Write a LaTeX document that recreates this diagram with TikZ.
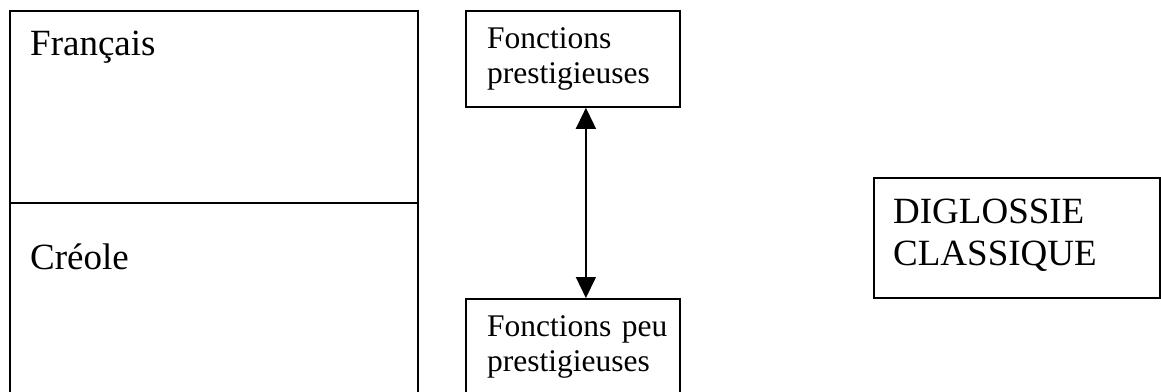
\documentclass[tikz,border=0pt]{standalone}
\usepackage{fontspec}
\setmainfont{Liberation Serif}
\usetikzlibrary{arrows.meta, positioning}

\begin{document}
\begin{tikzpicture}[
    x=1pt, y=-1pt,
    cell/.style={draw, line width=1.8pt, inner sep=0pt, anchor=north west},
    bigtxt/.style={font=\fontsize{37}{42}\selectfont, inner sep=0pt,
                   anchor=base west, align=left, text width=260pt},
    smalltxt/.style={font=\fontsize{31.5}{35.6}\selectfont, inner sep=0pt,
                     anchor=base west, align=left, text width=200pt},
    arr/.style={{Triangle[length=21pt, width=20pt]}-{Triangle[length=21pt, width=20pt]},
                line width=1.5pt}
  ]
    \path[use as bounding box, clip] (0,0) rectangle (1161,391);

    % langues
    \node[cell, minimum width=408pt, minimum height=192pt] (fr) at (9,10) {};
    \node[cell, minimum width=408pt, minimum height=200pt] (cr) at (9,202) {};
    \node[bigtxt] (frtxt) at ([shift={(21,45)}]fr.north west) {Français};
    \node[bigtxt] (crtxt) at ([shift={(21,67)}]cr.north west) {Créole};

    % fonctions
    \node[cell, minimum width=214pt, minimum height=96pt] (fhaut) at (465,10) {};
    \node[cell, minimum width=214pt, minimum height=100pt] (fbas) at (465,298) {};
    \node[smalltxt] (hauttxt) at ([shift={(22,38)}]fhaut.north west)
      {Fonctions\\prestigieuses};
    \node[smalltxt] (bastxt) at ([shift={(22,38)}]fbas.north west)
      {Fonctions peu\\prestigieuses};
    \draw[arr] ([xshift=13pt]fhaut.south) -- ([xshift=13pt]fbas.north);

    % type
    \node[cell, minimum width=286pt, minimum height=120pt] (diglo) at (873,177) {};
    \node[bigtxt] (diglotxt) at ([shift={(20,46)}]diglo.north west)
      {DIGLOSSIE\\CLASSIQUE};
\end{tikzpicture}
\end{document}
